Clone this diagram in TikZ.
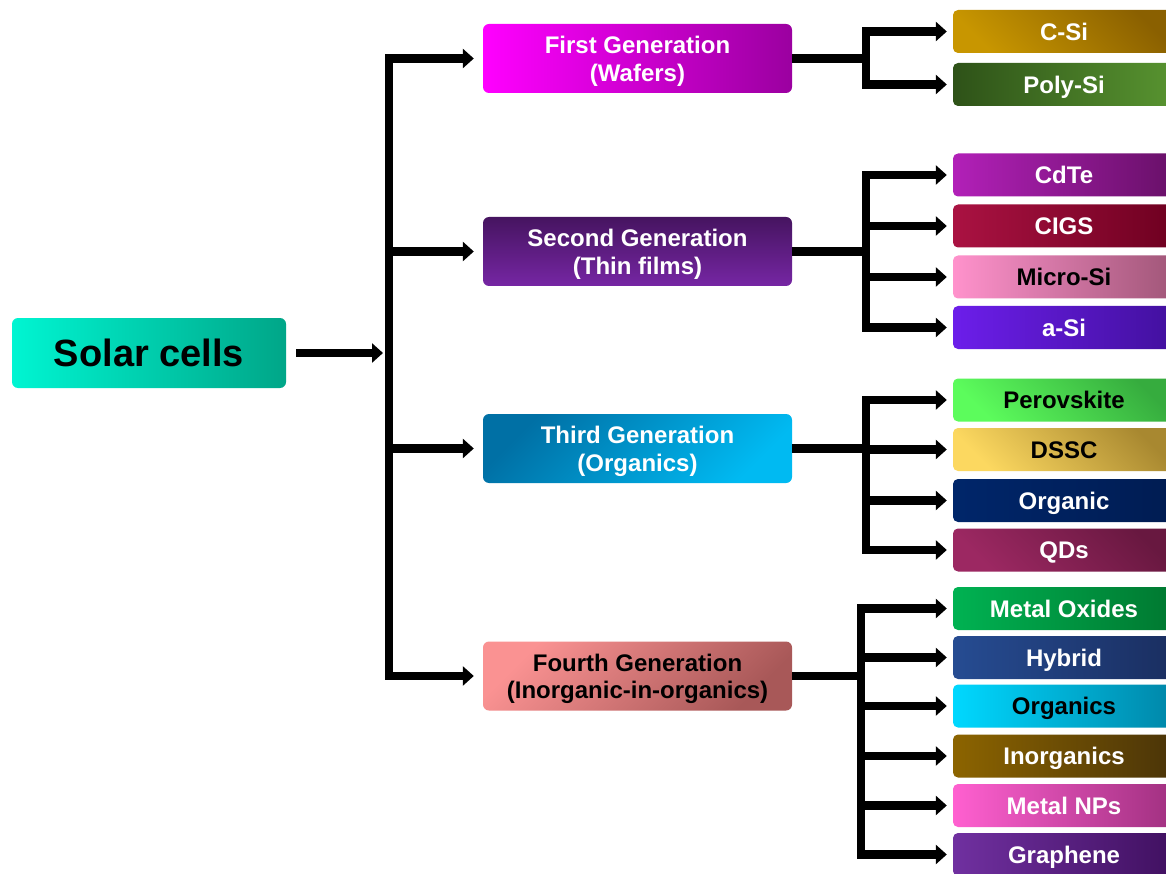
\documentclass[tikz,border=0pt]{standalone}
\usepackage{fontspec}
\setmainfont{Liberation Sans}
\usetikzlibrary{arrows.meta}
\newcommand{\topstrut}{\rule{0pt}{23pt}}
\begin{document}
\begin{tikzpicture}[x=1pt,y=-1pt,
  box/.style={rounded corners=6pt, inner sep=0pt, align=center, text=white,
    font=\bfseries\fontsize{24}{27.5}\selectfont},
  genbox/.style={box, minimum width=309pt, minimum height=69pt},
  leaf/.style={box, rounded corners=5pt, minimum width=222pt, minimum height=43pt,
    text height=17.2pt, text depth=0pt},
  conn/.style={line width=8.5pt, line join=miter},
  arr/.style={conn, -{Triangle[length=11pt,width=19pt]}},
  leafarr/.style={arr, shorten >=6pt},
  genarr/.style={arr, shorten >=9pt},
]
\clip (0,0) rectangle (1166,874);
\fill[white] (0,0) rectangle (1166,874);

% main nodes
\node[box, minimum width=274pt, minimum height=70pt, text=black,
  font=\bfseries\fontsize{38}{40}\selectfont, text height=27pt, text depth=0pt,
  left color={rgb,255:red,0;green,245;blue,210}, right color={rgb,255:red,0;green,166;blue,136}]
  (solar) at (149,353) {Solar cells};

\node[genbox, left color={rgb,255:red,255;green,0;blue,255}, right color={rgb,255:red,155;green,0;blue,160}]
  (g1) at (637.5,58.5) {\topstrut First Generation\\(Wafers)};
\node[genbox, top color={rgb,255:red,70;green,20;blue,96}, bottom color={rgb,255:red,118;green,38;blue,164}]
  (g2) at (637.5,251.5) {\topstrut Second Generation\\(Thin films)};
\node[genbox, left color={rgb,255:red,0;green,112;blue,165}, right color={rgb,255:red,0;green,186;blue,242}, shading angle=45]
  (g3) at (637.5,448.5) {\topstrut Third Generation\\(Organics)};
\node[genbox, text=black, left color={rgb,255:red,250;green,146;blue,146}, right color={rgb,255:red,168;green,88;blue,88}, shading angle=45]
  (g4) at (637.5,676) {\topstrut Fourth Generation\\(Inorganic-in-organics)};

% leaves
\node[leaf, left color={rgb,255:red,200;green,150;blue,0}, right color={rgb,255:red,138;green,96;blue,0}, shading angle=135] (c1) at (1064,31.5) {C-Si};
\node[leaf, left color={rgb,255:red,46;green,82;blue,24}, right color={rgb,255:red,88;green,148;blue,48}] (c2) at (1064,84.5) {Poly-Si};

\node[leaf, left color={rgb,255:red,178;green,32;blue,184}, right color={rgb,255:red,104;green,16;blue,104}] (d1) at (1064,175) {CdTe};
\node[leaf, left color={rgb,255:red,170;green,18;blue,66}, right color={rgb,255:red,110;green,0;blue,32}] (d2) at (1064,226) {CIGS};
\node[leaf, text=black, left color={rgb,255:red,255;green,146;blue,204}, right color={rgb,255:red,160;green,86;blue,120}] (d3) at (1064,277) {Micro-Si};
\node[leaf, left color={rgb,255:red,108;green,30;blue,234}, right color={rgb,255:red,66;green,16;blue,158}] (d4) at (1064,327.5) {a-Si};

\node[leaf, text=black, left color={rgb,255:red,92;green,252;blue,92}, right color={rgb,255:red,54;green,172;blue,62}, shading angle=135] (e1) at (1064,400) {Perovskite};
\node[leaf, text=black, left color={rgb,255:red,252;green,216;blue,96}, right color={rgb,255:red,168;green,136;blue,48}, shading angle=135] (e2) at (1064,449.5) {DSSC};
\node[leaf, left color={rgb,255:red,0;green,38;blue,106}, right color={rgb,255:red,0;green,28;blue,82}] (e3) at (1064,500.5) {Organic};
\node[leaf, left color={rgb,255:red,156;green,40;blue,98}, right color={rgb,255:red,104;green,24;blue,64}, shading angle=135] (e4) at (1064,550) {QDs};

\node[leaf, left color={rgb,255:red,0;green,178;blue,82}, right color={rgb,255:red,0;green,120;blue,48}] (f1) at (1064,608.5) {Metal Oxides};
\node[leaf, left color={rgb,255:red,38;green,76;blue,146}, right color={rgb,255:red,26;green,46;blue,96}] (f2) at (1064,657.5) {Hybrid};
\node[leaf, text=black, left color={rgb,255:red,0;green,216;blue,255}, right color={rgb,255:red,0;green,134;blue,168}] (f3) at (1064,706) {Organics};
\node[leaf, left color={rgb,255:red,140;green,100;blue,0}, right color={rgb,255:red,74;green,52;blue,8}] (f4) at (1064,756) {Inorganics};
\node[leaf, left color={rgb,255:red,255;green,96;blue,208}, right color={rgb,255:red,160;green,48;blue,128}] (f5) at (1064,805.5) {Metal NPs};
\node[leaf, left color={rgb,255:red,112;green,48;blue,160}, right color={rgb,255:red,64;green,16;blue,96}] (f6) at (1064,854.5) {Graphene};

% connectors
\coordinate (bus) at (389,353);
\draw[arr, shorten <=10pt, shorten >=6pt] (solar.east) -- (bus);
\draw[genarr] (bus) |- (g1.west);
\draw[genarr] (bus) |- (g2.west);
\draw[genarr] (bus) |- (g3.west);
\draw[genarr] (bus) |- (g4.west);

\coordinate (j1) at (866,58.5);
\draw[conn] (g1.east) -- (j1);
\foreach \n in {c1,c2} \draw[leafarr] (j1) |- (\n.west);

\coordinate (j2) at (866,251.5);
\draw[conn] (g2.east) -- (j2);
\foreach \n in {d1,d2,d3,d4} \draw[leafarr] (j2) |- (\n.west);

\coordinate (j3) at (866,448.5);
\draw[conn] (g3.east) -- (j3);
\foreach \n in {e1,e2,e3,e4} \draw[leafarr] (j3) |- (\n.west);

\coordinate (j4) at (861,678);
\draw[conn] (g4.east) -- (g4.east -| j4);
\foreach \n in {f1,f2,f3,f4,f5,f6} \draw[leafarr] (j4) |- (\n.west);
\end{tikzpicture}
\end{document}
